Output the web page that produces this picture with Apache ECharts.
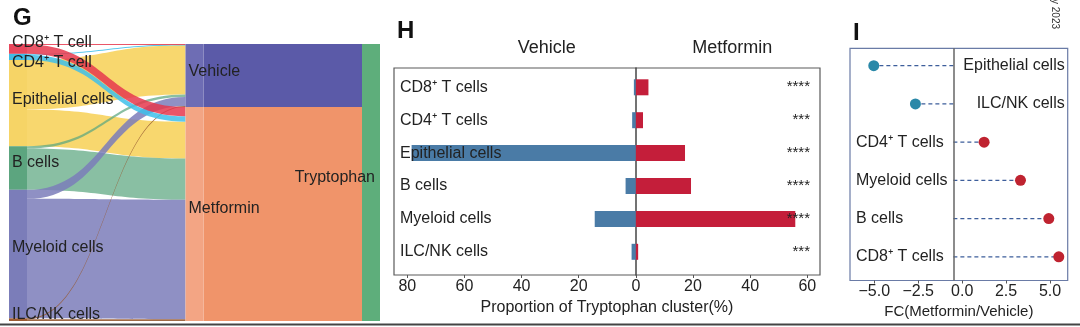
<!DOCTYPE html>
<html>
<head>
<meta charset="utf-8">
<script src="https://cdn.jsdelivr.net/npm/echarts@6/dist/echarts.min.js"></script>
<style>
  html, body { margin: 0; padding: 0; background: #fff; }
  #chart { width: 1080px; height: 327px; }
</style>
</head>
<body>
<div id="chart"></div>
<script>
// ---- Sankey: cell types -> treatment group -> Tryptophan cluster ----
const sankeyCells = ['CD8⁺ T cell', 'CD4⁺ T cell', 'Epithelial cells', 'B cells', 'Myeloid cells', 'ILC/NK cells'];
const groups = ['Vehicle', 'Metformin'];
const clusterName = 'Tryptophan';
// share of the cluster's cells coming from each group (%)
const groupShare = [22.7, 77.3];

// ---- Proportion of each cell type within the Tryptophan cluster (%) ----
const cellTypes = ['CD8⁺ T cells', 'CD4⁺ T cells', 'Epithelial cells', 'B cells', 'Myeloid cells', 'ILC/NK cells'];
const vehicleProportion = [0.7, 1.3, 78.5, 3.6, 14.4, 1.5];
const metforminProportion = [4.4, 2.5, 17.2, 19.3, 55.8, 0.8];
const significance = ['****', '***', '****', '****', '****', '***'];
const proportionTicks = [-80, -60, -40, -20, 0, 20, 40, 60];

// ---- Fold change Metformin / Vehicle ----
const fcCells = ['Epithelial cells', 'ILC/NK cells', 'CD4⁺ T cells', 'Myeloid cells', 'B cells', 'CD8⁺ T cells'];
const fcValues = [-5.03, -2.66, 1.25, 3.32, 4.93, 5.50];
const fcBaseline = -0.5;
const fcTicks = [-5, -2.5, 0, 2.5, 5];
const fcRows = [0, 1, 2, 3, 4, 5];

// ---- styles ----
const FONT = '"Liberation Sans", Arial, Helvetica, sans-serif';
const TEXT = '#222';
const nodeColor = {
  'CD8⁺ T cell': '#E8475C', 'CD4⁺ T cell': '#3FBDE6', 'Epithelial cells': '#F6D466',
  'B cells': '#5CA57F', 'Myeloid cells': '#7B7DB9', 'ILC/NK cells': '#9C5B33',
  'Vehicle': '#6E6DB4', 'Metformin': '#F3A584', 'Tryptophan': '#5EAE7B'
};
const linkColor = {
  'CD8⁺ T cell': 'rgba(230,56,78,0.85)', 'CD4⁺ T cell': 'rgba(64,192,234,0.85)',
  'Epithelial cells': 'rgba(247,212,98,0.92)', 'B cells': 'rgba(92,166,127,0.72)',
  'Myeloid cells': 'rgba(123,125,186,0.85)', 'ILC/NK cells': 'rgba(150,90,50,0.9)',
  'Vehicle': '#5B5AA8', 'Metformin': '#F0946A'
};
const labelShift = {
  'CD8⁺ T cell': -6, 'CD4⁺ T cell': 6, 'Epithelial cells': -4, 'B cells': -5,
  'Myeloid cells': -6, 'ILC/NK cells': -5, 'Vehicle': -4, 'Metformin': -5, 'Tryptophan': -5
};

// nodes
const sankeyNodes = sankeyCells.concat(groups, [clusterName]).map(name => ({
  name,
  itemStyle: { color: nodeColor[name] },
  label: name === clusterName
    ? { position: 'insideRight', distance: 5, offset: [0, labelShift[name]] }
    : { position: 'insideLeft', distance: 3, offset: [0, labelShift[name]] }
}));

// links (drawing order: later links lie on top)
const drawOrder = [2, 3, 4, 5, 1, 0];
const sankeyLinks = [];
drawOrder.forEach(i => {
  const c = sankeyCells[i];
  sankeyLinks.push({ source: c, target: groups[0], value: groupShare[0] * vehicleProportion[i] / 100,
    lineStyle: { color: linkColor[c], opacity: 1 } });
  sankeyLinks.push({ source: c, target: groups[1], value: groupShare[1] * metforminProportion[i] / 100,
    lineStyle: { color: linkColor[c], opacity: 1 } });
});
groups.forEach((g, j) => {
  sankeyLinks.push({ source: g, target: clusterName, value: groupShare[j],
    lineStyle: { color: linkColor[g], opacity: 1 } });
});

const chart = echarts.init(document.getElementById('chart'), null, { renderer: 'canvas' });

const hidden = { show: false };

const option = {
  animation: false,
  backgroundColor: '#fff',
  textStyle: { fontFamily: FONT, color: TEXT },
  grid: [
    // H: frame
    { left: 394, top: 68, width: 426, height: 207, show: true, borderColor: '#5a5a5a', borderWidth: 1.2, backgroundColor: 'transparent' },
    // H: bars
    { left: 394, top: 70.85, width: 426, height: 197.4 },
    // I: fold change
    { left: 850, top: 48.3, width: 217.7, height: 232.2, show: true, borderColor: '#6A7BA6', borderWidth: 1.2, backgroundColor: 'transparent' }
  ],
  xAxis: [
    {
      gridIndex: 0, type: 'value', min: -84.66, max: 64.45,
      axisLine: { show: false, onZero: false },
      splitLine: hidden,
      axisTick: { show: true, customValues: proportionTicks, length: 3, lineStyle: { color: '#555' } },
      axisLabel: { customValues: proportionTicks, formatter: v => String(Math.abs(v)), fontSize: 16, color: TEXT, margin: 4 },
      name: 'Proportion of Tryptophan cluster(%)', nameLocation: 'middle', nameGap: 20,
      nameTextStyle: { fontSize: 16, color: TEXT }
    },
    { gridIndex: 1, type: 'value', min: -84.66, max: 64.45, show: false },
    {
      gridIndex: 2, type: 'value', min: -6.383, max: 6.007,
      axisLine: { show: false, onZero: false },
      splitLine: hidden,
      axisTick: { show: true, customValues: fcTicks, length: 3, lineStyle: { color: '#555' } },
      axisLabel: {
        customValues: fcTicks, fontSize: 16, color: TEXT, margin: 3,
        formatter: v => (v < 0 ? '−' : '') + Math.abs(v).toFixed(1)
      },
      name: 'FC(Metformin/Vehicle)', nameLocation: 'middle', nameGap: 23,
      nameTextStyle: { fontSize: 15, color: TEXT }
    }
  ],
  yAxis: [
    // zero line of H, carried by the axis line
    {
      gridIndex: 0, type: 'value', min: 0, max: 1,
      axisLine: { show: true, onZero: true, lineStyle: { color: '#444', width: 1.5 } },
      axisTick: hidden, axisLabel: hidden, splitLine: hidden
    },
    {
      gridIndex: 1, type: 'category', inverse: true, data: cellTypes, z: 5,
      axisLine: hidden, axisTick: hidden, splitLine: hidden,
      axisLabel: { inside: true, margin: 6, fontSize: 16, color: TEXT }
    },
    {
      gridIndex: 1, type: 'category', inverse: true, data: significance, position: 'right', z: 5,
      axisLine: hidden, axisTick: hidden, splitLine: hidden,
      axisLabel: { inside: true, margin: 10, fontSize: 15, color: TEXT, padding: [7, 0, 0, 0] }
    },
    {
      gridIndex: 2, type: 'value', inverse: true, min: -0.455, max: 5.62, position: 'left',
      axisLine: { show: false, onZero: false }, axisTick: hidden, splitLine: hidden,
      axisLabel: {
        inside: true, margin: 6, fontSize: 16, color: TEXT, padding: [0, 0, 6, 0],
        customValues: fcRows, formatter: v => (fcValues[v] > 0 ? fcCells[v] : '')
      }
    },
    {
      gridIndex: 2, type: 'value', inverse: true, min: -0.455, max: 5.62, position: 'right',
      axisLine: { show: false, onZero: false }, axisTick: hidden, splitLine: hidden,
      axisLabel: {
        inside: true, margin: 3, fontSize: 16, color: TEXT, padding: [0, 0, 6, 0],
        customValues: fcRows, formatter: v => (fcValues[v] < 0 ? fcCells[v] : '')
      }
    }
  ],
  series: [
    {
      type: 'sankey',
      left: 9, top: 44, right: 700, bottom: 6,
      nodeWidth: 18, nodeGap: 0, layoutIterations: 0, nodeAlign: 'justify',
      draggable: false,
      emphasis: { disabled: true },
      label: { show: true, fontSize: 16, color: TEXT, fontFamily: FONT },
      lineStyle: { curveness: 0.5 },
      data: sankeyNodes,
      links: sankeyLinks
    },
    {
      name: 'Vehicle', type: 'bar', xAxisIndex: 1, yAxisIndex: 1,
      data: vehicleProportion.map(v => -v),
      barWidth: 16, barGap: '-100%',
      itemStyle: { color: '#4A7BA6' }
    },
    {
      name: 'Metformin', type: 'bar', xAxisIndex: 1, yAxisIndex: 1,
      data: metforminProportion,
      barWidth: 16, barGap: '-100%',
      itemStyle: { color: '#C41E3A' }
    },
    {
      // dashed stems from the reference line to each point
      type: 'custom', xAxisIndex: 2, yAxisIndex: 3,
      data: fcValues.map((v, i) => [v, fcRows[i]]),
      renderItem: (params, api) => {
        const row = api.value(1);
        const p0 = api.coord([fcBaseline, row]);
        const p1 = api.coord([api.value(0), row]);
        return {
          type: 'line',
          shape: { x1: p0[0], y1: p0[1], x2: p1[0], y2: p1[1] },
          style: { stroke: '#3D5E9B', lineWidth: 1.2, lineDash: [4, 3] }
        };
      },
      markLine: {
        silent: true, symbol: 'none', label: hidden,
        lineStyle: { color: '#666', width: 1.5, type: 'solid' },
        data: [{ xAxis: fcBaseline }]
      },
      z: 2
    },
    {
      type: 'scatter', xAxisIndex: 2, yAxisIndex: 3,
      data: fcValues.map((v, i) => [v, fcRows[i]]),
      symbolSize: 11,
      itemStyle: { opacity: 1, color: p => (p.value[0] < 0 ? '#2A88A8' : '#BF2330') },
      z: 3
    }
  ],
  graphic: [
    { type: 'text', left: 13, top: 6, style: { text: 'G', font: 'bold 24px ' + FONT, fill: '#111' } },
    { type: 'text', left: 397, top: 19, style: { text: 'H', font: 'bold 24px ' + FONT, fill: '#111' } },
    { type: 'text', left: 853, top: 21, style: { text: 'I', font: 'bold 24px ' + FONT, fill: '#111' } },
    { type: 'text', x: 546.7, y: 48, style: { text: 'Vehicle', font: '18px ' + FONT, fill: TEXT, align: 'center', verticalAlign: 'middle' } },
    { type: 'text', x: 732.3, y: 48, style: { text: 'Metformin', font: '18px ' + FONT, fill: TEXT, align: 'center', verticalAlign: 'middle' } },
    { type: 'text', x: 1055, y: 14, rotation: -Math.PI / 2, style: { text: 'y 2023', font: '10px ' + FONT, fill: '#333', align: 'center', verticalAlign: 'middle' } },
    { type: 'line', shape: { x1: 0, y1: 324.5, x2: 1080, y2: 324.5 }, style: { stroke: '#444', lineWidth: 2 } }
  ]
};

chart.setOption(option);
</script>
</body>
</html>
